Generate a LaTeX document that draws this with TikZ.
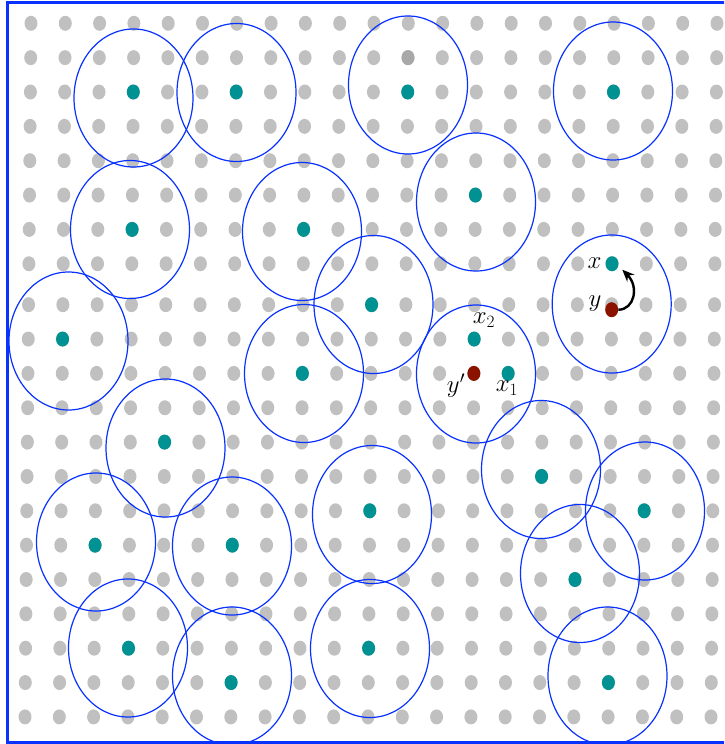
\documentclass[tikz,border=0pt]{standalone}
\usetikzlibrary{shapes.geometric,arrows.meta,calc}
\definecolor{gdotc}{RGB}{192,192,192}
\definecolor{gdark}{RGB}{168,168,168}
\definecolor{tealc}{RGB}{0,146,146}
\definecolor{redc}{RGB}{140,18,0}
\definecolor{ringc}{RGB}{10,50,255}
\newcommand\gridpt[3]{%
  \pgfmathsetmacro\yy{23.3+34.35*#2+(#2>7)*6.6}%
  \pgfmathsetmacro\xx{31+34.3*#1-6*(\yy-23)/694}%
  \coordinate (#3) at (\xx,\yy);}
\tikzset{
  dotbase/.style={ellipse,inner sep=0pt,minimum width=13pt,minimum height=15pt},
  gdot/.style={dotbase,fill=gdotc},
  tdot/.style={dotbase,fill=tealc},
  rdot/.style={dotbase,fill=redc},
  ring/.style={draw=ringc,line width=1.2pt},
  lab/.style={inner sep=0pt,font=\fontsize{26}{30}\selectfont}
}
\begin{document}
\begin{tikzpicture}[x=1pt,y=-1pt]
\useasboundingbox (0,0) rectangle (724,744);
\clip (0,0) rectangle (724,744);
% grid of gray dots
\foreach \i in {0,...,20}{
  \foreach \j in {0,...,20}{
    \gridpt{\i}{\j}{g-\i-\j}
    \node[gdot] (n-\i-\j) at (g-\i-\j) {};
  }
}
% darker dot
\gridpt{11}{1}{pd}
\node[dotbase,fill=gdark] (dk) at (pd) {};
% teal dots
\foreach \i/\j [count=\k] in {3/2,6/2,11/2,17/2,13/5,3/6,8/6,10/8,1/9,8/10,4/12,15/13,18/14,2/15,6/15,10/14,16/16,3/18,10/18,6/19,17/19}{
  \gridpt{\i}{\j}{pt\k}
  \node[tdot] (t\k) at (pt\k) {};
}
\gridpt{17}{7}{pX}\node[tdot] (x) at (pX) {};
\gridpt{17}{8}{pY}\node[rdot] (y) at ($(pY)+(0,5)$) {};
\gridpt{13}{9}{pX2}\node[tdot] (x2) at (pX2) {};
\gridpt{14}{10}{pX1}\node[tdot] (x1) at (pX1) {};
\gridpt{13}{10}{pYp}\node[rdot] (yp) at (pYp) {};
% rings
\foreach \cx/\cy in {133.5/98,236.5/92.5,408/85,613/91,476/202,130/229.5,302/231.5,373.5/304.5,68.5/341,611.7/304,476/374,304/373.5,165.5/448,541/469.5,645/511,96/542,232/546,372/514.5,580/573.5,128/648,370/648.5,232/676,607.5/676}{
  \draw[ring] (\cx,\cy) ellipse [x radius=59.5pt,y radius=69pt];
}
% labels
\node[lab] (lx) at (594.5,263) {$x$};
\node[lab] (ly) at (595,304) {$y$};
\node[lab] (lx2) at (484,320) {$x_2$};
\node[lab] (lyp) at (456,386) {$y'$};
\node[lab] (lx1) at (507,388) {$x_1$};
% arrow
\coordinate (xt) at ($(x.south east)+(5.5,0.5)$);
\draw[line width=2.4pt,-{Stealth[length=12pt,width=10pt]}] (y.east) .. controls ($(y.east)+(16,0)$) and ($(xt)+(17,17)$) .. (xt);
% frame
\draw[draw=ringc,line width=3pt] (7.5,2.5) rectangle (760,742.5);
\end{tikzpicture}
\end{document}
